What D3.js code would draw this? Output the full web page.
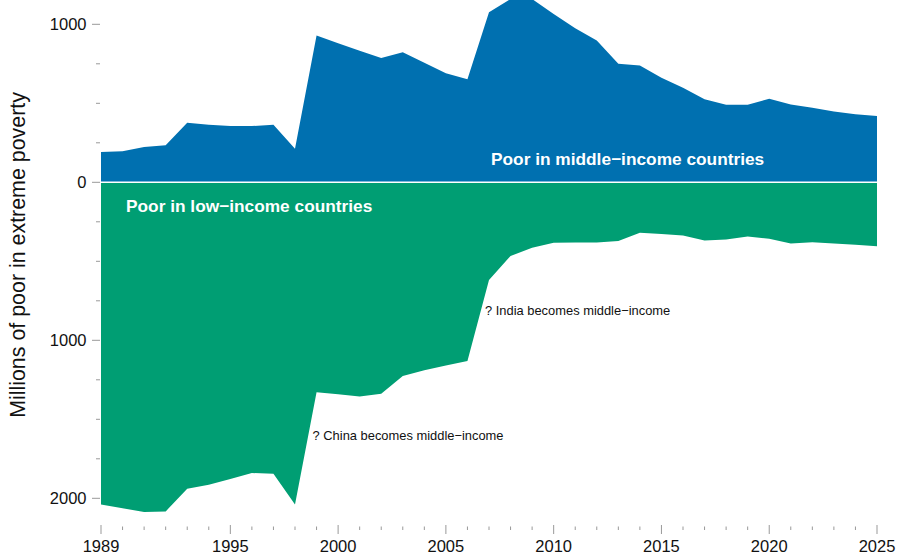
<!DOCTYPE html>
<html>
<head>
<meta charset="utf-8">
<script src="https://cdn.jsdelivr.net/npm/d3@7"></script>
<style>
  html, body { margin: 0; padding: 0; background: #fff; }
  svg { display: block; font-family: "Liberation Sans", Arial, Helvetica, sans-serif; }
</style>
</head>
<body>
<svg id="chart" width="897" height="555"></svg>
<script>
const years = d3.range(1989, 2026);
const middleIncomePoor = [191, 196, 223, 234, 377, 364, 356, 356, 364, 213,
  929, 880, 833, 786, 823, 756, 690, 653, 1076, 1160, 1160, 1065, 975, 897,
  750, 739, 661, 598, 526, 491, 491, 529, 493, 472, 448, 431, 419];
const lowIncomePoor = [2040, 2063, 2087, 2083, 1939, 1914, 1878, 1840, 1845, 2040,
  1329, 1341, 1356, 1339, 1226, 1190, 1160, 1131, 619, 466, 415, 383, 381, 381,
  371, 320, 328, 337, 368, 362, 343, 358, 387, 379, 387, 396, 404];
const yTickValues = [0, 250, 500, 750, 1000, -250, -500, -750, -1000, -1250, -1500, -1750, -2000];
const yLabelValues = [1000, 0, -1000, -2000];
const xLabelYears = [1989, 1995, 2000, 2005, 2010, 2015, 2020, 2025];
const annotations = [
  { year: 1999, value: -1600, text: "? China becomes middle\u2212income" },
  { year: 2007, value: -810, text: "? India becomes middle\u2212income" }
];

const svg = d3.select("#chart");
const x = d3.scaleLinear().domain([1989, 2025]).range([101, 877]);
const y = d3.scaleLinear().domain([-2000, 1000]).range([498.3, 24.3]);

const blue = "#0070B0", green = "#009E73";

const areaUp = d3.area()
  .x((d, i) => x(years[i]))
  .y0(y(0))
  .y1(d => y(d));
const areaDown = d3.area()
  .x((d, i) => x(years[i]))
  .y0(y(0))
  .y1(d => y(-d));

svg.append("path").datum(middleIncomePoor).attr("d", areaUp).attr("fill", blue);
svg.append("path").datum(lowIncomePoor).attr("d", areaDown).attr("fill", green);
svg.append("line")
  .attr("x1", x(1989)).attr("x2", x(2025))
  .attr("y1", y(0)).attr("y2", y(0))
  .attr("stroke", "#fff").attr("stroke-width", 1.5);

// Y axis ticks
const gy = svg.append("g");
gy.selectAll("line").data(yTickValues).join("line")
  .attr("x1", d => yLabelValues.includes(d) ? 92 : 96)
  .attr("x2", 100)
  .attr("y1", d => y(d)).attr("y2", d => y(d))
  .attr("stroke", "#999").attr("stroke-width", 1);
gy.selectAll("text").data(yLabelValues).join("text")
  .attr("x", 86.5).attr("y", d => y(d))
  .attr("dy", "0.35em")
  .attr("text-anchor", "end")
  .attr("font-size", 16.5).attr("fill", "#111")
  .text(d => Math.abs(d));

// X axis ticks
const gx = svg.append("g");
gx.selectAll("line").data(years).join("line")
  .attr("x1", d => x(d)).attr("x2", d => x(d))
  .attr("y1", d => xLabelYears.includes(d) ? 525 : 526.5)
  .attr("y2", d => xLabelYears.includes(d) ? 534 : 530)
  .attr("stroke", "#999").attr("stroke-width", 1);
gx.selectAll("text").data(xLabelYears).join("text")
  .attr("x", d => x(d)).attr("y", 552)
  .attr("text-anchor", "middle")
  .attr("font-size", 16.5).attr("fill", "#111")
  .text(d => d);

// Y title
svg.append("text")
  .attr("transform", `translate(25, ${y(-460)}) rotate(-90)`)
  .attr("text-anchor", "middle")
  .attr("font-size", 21.4).attr("fill", "#111")
  .text("Millions of poor in extreme poverty");

// Band labels
svg.append("text")
  .attr("x", 491).attr("y", 165)
  .attr("font-size", 17.3).attr("font-weight", "bold").attr("fill", "#fff")
  .text("Poor in middle\u2212income countries");
svg.append("text")
  .attr("x", 126).attr("y", 212)
  .attr("font-size", 17.3).attr("font-weight", "bold").attr("fill", "#fff")
  .text("Poor in low\u2212income countries");

// Annotations
svg.selectAll(".anno").data(annotations).join("text")
  .attr("class", "anno")
  .attr("x", d => x(d.year) - 4).attr("y", d => y(d.value))
  .attr("dy", "0.35em")
  .attr("font-size", 12.9).attr("fill", "#111")
  .text(d => d.text);
</script>
</body>
</html>
